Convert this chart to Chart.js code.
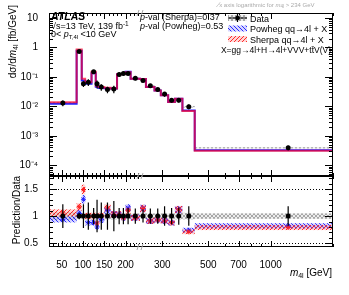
<!DOCTYPE html>
<html><head><meta charset="utf-8">
<script src="https://cdn.jsdelivr.net/npm/chart.js@4/dist/chart.umd.min.js"></script>
<style>
html,body{margin:0;padding:0;background:#fff;}
#wrap{position:relative;width:349px;height:295px;overflow:hidden;}
canvas{position:absolute;left:0;}
</style></head><body>
<div id="wrap">
<canvas id="bot" width="349" height="119" style="top:176px"></canvas>
<canvas id="top" width="349" height="178" style="top:0"></canvas>
</div>
<script>
// ---------------- data ----------------
const binEdges = [20, 85, 97, 105, 120, 130, 136, 150, 165, 180, 190, 200, 212, 234, 250, 275, 295, 320, 345, 375, 430, 2000];
const dataValues = [0.013, 0.73, 0.058, 0.066, 0.15, 0.058, 0.045, 0.037, 0.039, 0.12, 0.13, 0.13, 0.09, 0.075, 0.05, 0.037, 0.026, 0.016, 0.016, 0.0097, 0.00039];
const dataStatRel = [0.22, 0.06, 0.22, 0.25, 0.15, 0.3, 0.25, 0.25, 0.28, 0.15, 0.15, 0.15, 0.14, 0.12, 0.14, 0.14, 0.18, 0.15, 0.16, 0.18, 0.18];
const dataSystRel = [0.07, 0.05, 0.06, 0.06, 0.05, 0.06, 0.06, 0.06, 0.06, 0.05, 0.05, 0.05, 0.05, 0.05, 0.05, 0.05, 0.05, 0.05, 0.06, 0.06, 0.05];
const sherpaRatio = [1.06, 1.17, 1.49, 1.0, 1.0, 0.87, 1.0, 1.15, 1.03, 1.03, 0.97, 1.11, 0.97, 1.14, 0.91, 0.93, 0.91, 0.88, 1.12, 0.71, 0.79];
const powhegRatio = [0.94, 1.05, 1.31, 0.88, 0.88, 0.80, 0.93, 1.11, 1.03, 1.03, 0.97, 1.15, 0.97, 1.14, 0.91, 0.93, 0.91, 0.88, 1.12, 0.74, 0.82];
const predUncRel = 0.06;
const xTickValues = [50, 100, 150, 200, 300, 500, 700, 1000];
const yTickValues = [1e-4, 1e-3, 1e-2, 1e-1, 1, 10];
const yTickLabels = ['10\u207B\u2074', '10\u207B\u00B3', '10\u207B\u00B2', '10\u207B\u00B9', '1', '10'];
const ratioTickValues = [0.5, 1, 1.5];
const ratioTickLabels = ['0.5', '1', '1.5'];

// ---------------- axis: linear up to 234 GeV, logarithmic above ----------------
const X_MIN = 20, X_BREAK = 234, X_MAX = 2000, LIN_SHARE = 0.3204;
class BrokenLogScale extends Chart.LinearScale {
  frac(v) {
    if (v <= X_BREAK) return LIN_SHARE * (v - this.min) / (X_BREAK - this.min);
    return LIN_SHARE + (1 - LIN_SHARE) * Math.log(v / X_BREAK) / Math.log(this.max / X_BREAK);
  }
  getPixelForValue(v) { return this.left + this.width * this.frac(v); }
  getValueForPixel(p) {
    const f = (p - this.left) / this.width;
    if (f <= LIN_SHARE) return this.min + f / LIN_SHARE * (X_BREAK - this.min);
    return X_BREAK * Math.exp((f - LIN_SHARE) / (1 - LIN_SHARE) * Math.log(this.max / X_BREAK));
  }
}
BrokenLogScale.id = 'brokenlog';
Chart.register(BrokenLogScale);

const FAM = '"Liberation Sans", Arial, Helvetica, sans-serif';
const nb = dataValues.length;
const centers = dataValues.map((_, i) => (binEdges[i] + binEdges[i + 1]) / 2);
const sherpaPred = dataValues.map((v, i) => v * sherpaRatio[i]);
const powhegPred = dataValues.map((v, i) => v * powhegRatio[i]);
function stepPoints(vals) {
  const pts = [];
  vals.forEach((v, i) => { pts.push({x: binEdges[i], y: v}); pts.push({x: binEdges[i + 1], y: v}); });
  return pts;
}
const xMinor = [];
for (let m = 30; m < X_BREAK; m += 10) if (!xTickValues.includes(m)) xMinor.push(m);
[400, 600, 800, 900, 2000].forEach(m => xMinor.push(m));

function makePattern(color, dir, bg) {
  const c = document.createElement('canvas'); c.width = 4; c.height = 4;
  const g = c.getContext('2d');
  if (bg) { g.fillStyle = bg; g.fillRect(0, 0, 4, 4); }
  g.strokeStyle = color; g.lineWidth = 1;
  g.beginPath();
  if (dir === '/' || dir === 'x') { g.moveTo(0, 4); g.lineTo(4, 0); g.moveTo(-1, 1); g.lineTo(1, -1); g.moveTo(3, 5); g.lineTo(5, 3); }
  if (dir === '\\' || dir === 'x') { g.moveTo(0, 0); g.lineTo(4, 4); g.moveTo(-1, 3); g.lineTo(1, 5); g.moveTo(3, -1); g.lineTo(5, 1); }
  g.stroke();
  return g.canvas;
}
let patGray, patRed, patBlue;
function pats(ctx) {
  if (!patGray) {
    patGray = ctx.createPattern(makePattern('rgba(150,150,150,0.8)', 'x', 'rgba(220,220,220,0.5)'), 'repeat');
    patRed = ctx.createPattern(makePattern('rgba(255,0,0,0.8)', '/', 'rgba(255,120,120,0.3)'), 'repeat');
    patBlue = ctx.createPattern(makePattern('rgba(0,0,255,0.8)', '\\', 'rgba(120,120,255,0.3)'), 'repeat');
  }
}

function rich(ctx, x, y, parts, align) {
  let w = 0;
  parts.forEach(p => { ctx.font = p.f; w += ctx.measureText(p.t).width; });
  let cx = align === 'right' ? x - w : (align === 'center' ? x - w / 2 : x);
  parts.forEach(p => { ctx.font = p.f; ctx.fillText(p.t, cx, y + (p.dy || 0)); cx += ctx.measureText(p.t).width; });
  return w;
}
function F(size, style) { return (style ? style + ' ' : '') + size + 'px ' + FAM; }
function noPad(s) { s.paddingTop = 0; s.paddingBottom = 0; s.paddingLeft = 0; s.paddingRight = 0; }

function drawFrameTicks(ctx, chart, yMajor, yMinor) {
  const a = chart.chartArea, xs = chart.scales.x, ys = chart.scales.y;
  ctx.save();
  ctx.strokeStyle = '#000'; ctx.lineWidth = 1;
  ctx.strokeRect(a.left + 0.5, a.top + 0.5, a.right - a.left - 1, a.bottom - a.top - 1);
  ctx.beginPath();
  const vt = (v, len) => {
    const px = Math.round(xs.getPixelForValue(v)) + 0.5;
    ctx.moveTo(px, a.top); ctx.lineTo(px, a.top + len);
    ctx.moveTo(px, a.bottom); ctx.lineTo(px, a.bottom - len);
  };
  xTickValues.forEach(v => vt(v, 6));
  xMinor.forEach(v => vt(v, 3));
  const ht = (v, len) => {
    if (v < ys.min || v > ys.max) return;
    const py = Math.round(ys.getPixelForValue(v)) + 0.5;
    ctx.moveTo(a.left, py); ctx.lineTo(a.left + len, py);
    ctx.moveTo(a.right, py); ctx.lineTo(a.right - len, py);
  };
  yMajor.forEach(v => ht(v, 8));
  yMinor.forEach(v => ht(v, 4));
  ctx.stroke();
  const bx = xs.getPixelForValue(X_BREAK);
  ctx.strokeStyle = '#aaa';
  ctx.beginPath();
  [a.top, a.bottom].forEach(y => { ctx.moveTo(bx - 3, y + 3); ctx.lineTo(bx - 1, y - 3); ctx.moveTo(bx + 1, y + 3); ctx.lineTo(bx + 3, y - 3); });
  ctx.stroke();
  ctx.restore();
}

// ---------------- top panel ----------------
const yMinorTop = [];
for (let d = -5; d <= 1; d++) for (let k = 2; k <= 9; k++) yMinorTop.push(k * Math.pow(10, d));

const topPlugin = {
  id: 'topDecor',
  beforeDatasetsDraw(chart) {
    const ctx = chart.ctx, xs = chart.scales.x, ys = chart.scales.y, a = chart.chartArea;
    pats(ctx);
    ctx.save();
    ctx.beginPath(); ctx.rect(a.left, a.top, a.right - a.left, a.bottom - a.top); ctx.clip();
    ctx.fillStyle = patGray;
    dataValues.forEach((v, i) => {
      const x0 = xs.getPixelForValue(binEdges[i]), x1 = xs.getPixelForValue(binEdges[i + 1]);
      const y0 = ys.getPixelForValue(v * (1 + dataSystRel[i])), y1 = ys.getPixelForValue(v * (1 - dataSystRel[i]));
      ctx.fillRect(x0, y0, x1 - x0, y1 - y0);
    });
    ctx.restore();
  },
  beforeDatasetDraw(chart, args) {
    if (args.index !== 0) return;
    const ctx = chart.ctx, xs = chart.scales.x, ys = chart.scales.y;
    ctx.save(); ctx.strokeStyle = '#000'; ctx.lineWidth = 1.2; ctx.beginPath();
    dataValues.forEach((v, i) => {
      const px = xs.getPixelForValue(centers[i]);
      ctx.moveTo(px, ys.getPixelForValue(v * (1 + dataStatRel[i])));
      ctx.lineTo(px, ys.getPixelForValue(v * (1 - dataStatRel[i])));
    });
    ctx.stroke(); ctx.restore();
  },
  afterDraw(chart) {
    const ctx = chart.ctx;
    drawFrameTicks(ctx, chart, yTickValues, yMinorTop);
    ctx.save();
    ctx.fillStyle = '#000'; ctx.textBaseline = 'alphabetic';
    ctx.save();
    ctx.translate(16, 5); ctx.rotate(-Math.PI / 2);
    rich(ctx, 0, 0, [{t: 'd\u03C3/d', f: F(10)}, {t: 'm', f: F(10, 'italic')}, {t: '4l', f: F(7), dy: 2}, {t: ' [fb/GeV]', f: F(10)}], 'right');
    ctx.restore();
    ctx.fillStyle = '#aaa';
    rich(ctx, 218, 7, [{t: '\u2215', f: F(7, 'italic')}, {t: 'x axis logarithmic for ', f: F(6)}, {t: 'm', f: F(6, 'italic')}, {t: '4l', f: F(4.5), dy: 1}, {t: ' > 234 GeV', f: F(6)}]);
    ctx.fillStyle = '#000';
    rich(ctx, 51, 20, [{t: 'ATLAS', f: F(10.5, 'bold italic')}]);
    rich(ctx, 51, 28.5, [{t: '\u221As=13 TeV, 139 fb', f: F(9)}, {t: '-1', f: F(6.5), dy: -3}]);
    rich(ctx, 51, 37, [{t: '0< ', f: F(9)}, {t: 'p', f: F(9, 'italic')}, {t: 'T,4l', f: F(6), dy: 2}, {t: ' <10 GeV', f: F(9)}]);
    rich(ctx, 140, 19.5, [{t: 'p', f: F(9, 'italic')}, {t: '-val (Sherpa)=0.37', f: F(9)}]);
    rich(ctx, 140, 28.5, [{t: 'p', f: F(9, 'italic')}, {t: '-val (Powheg)=0.53', f: F(9)}]);
    const lx = 228, lw = 19;
    const rows = [18, 28.5, 39];
    pats(ctx);
    ctx.fillStyle = patGray; ctx.fillRect(lx, rows[0] - 3, lw, 6);
    ctx.strokeStyle = '#000'; ctx.lineWidth = 1.2; ctx.beginPath();
    ctx.moveTo(lx, rows[0]); ctx.lineTo(lx + lw, rows[0]);
    ctx.moveTo(lx + lw / 2, rows[0] - 4); ctx.lineTo(lx + lw / 2, rows[0] + 4); ctx.stroke();
    ctx.fillStyle = '#000'; ctx.beginPath(); ctx.arc(lx + lw / 2, rows[0], 2.3, 0, Math.PI * 2); ctx.fill();
    ctx.fillStyle = patBlue; ctx.fillRect(lx, rows[1] - 3, lw, 6);
    ctx.fillStyle = patRed; ctx.fillRect(lx, rows[2] - 3, lw, 6);
    ctx.fillStyle = '#000';
    rich(ctx, 250, rows[0] + 3.5, [{t: 'Data', f: F(9)}]);
    rich(ctx, 250, rows[1] + 3.5, [{t: 'Powheg qq\u21924l + X', f: F(9)}]);
    rich(ctx, 250, rows[2] + 3.5, [{t: 'Sherpa qq\u21924l + X', f: F(9)}]);
    rich(ctx, 331, 53, [{t: 'X=gg\u21924l+H\u21924l+VVV+t', f: F(8.5)}, {t: 't\u0304', f: F(8.5)}, {t: 'V(V)', f: F(8.5)}], 'right');
    ctx.restore();
  }
};

new Chart(document.getElementById('top'), {
  type: 'line',
  data: {
    datasets: [
      {label: 'Data', type: 'scatter', data: centers.map((c, i) => ({x: c, y: dataValues[i]})),
       pointRadius: 2.5, pointBackgroundColor: '#000', pointBorderColor: '#000', pointBorderWidth: 0},
      {label: 'Sherpa qq\u21924l + X', data: stepPoints(sherpaPred), borderColor: 'rgba(255,0,40,0.7)', borderWidth: 2, pointRadius: 0, fill: false, tension: 0},
      {label: 'Powheg qq\u21924l + X', data: stepPoints(powhegPred), borderColor: '#2222ff', borderWidth: 2, pointRadius: 0, fill: false, tension: 0}
    ]
  },
  options: {
    responsive: false, animation: false, devicePixelRatio: 1,
    layout: {autoPadding: false, padding: {left: 0, right: 16, top: 13, bottom: 2}},
    plugins: {legend: {display: false}, tooltip: {enabled: false}},
    scales: {
      x: {type: 'brokenlog', min: X_MIN, max: X_MAX, display: false},
      y: {type: 'logarithmic', min: 4.3e-5, max: 14.8,
          afterFit(s) { s.width = 49; noPad(s); },
          afterBuildTicks(s) { s.ticks = yTickValues.map(v => ({value: v, major: true})); },
          grid: {display: false}, border: {display: false},
          ticks: {color: '#000', font: {family: FAM, size: 10}, padding: 3,
                  callback: (v) => { const i = yTickValues.indexOf(v); return i >= 0 ? yTickLabels[i] : ''; }}}
    }
  },
  plugins: [topPlugin]
});

// ---------------- ratio panel ----------------
const yMinorRatio = [];
for (let k = 5; k <= 17; k++) { const v = k / 10; if (!ratioTickValues.includes(v)) yMinorRatio.push(v); }

const botPlugin = {
  id: 'botDecor',
  beforeDatasetsDraw(chart) {
    const ctx = chart.ctx, xs = chart.scales.x, ys = chart.scales.y, a = chart.chartArea;
    pats(ctx);
    ctx.save();
    ctx.beginPath(); ctx.rect(a.left, a.top, a.right - a.left, a.bottom - a.top); ctx.clip();
    const band = (pat, centre, half) => {
      ctx.fillStyle = pat;
      for (let i = 0; i < nb; i++) {
        const x0 = xs.getPixelForValue(binEdges[i]), x1 = xs.getPixelForValue(binEdges[i + 1]);
        const y0 = ys.getPixelForValue(centre(i) + half(i)), y1 = ys.getPixelForValue(centre(i) - half(i));
        ctx.fillRect(x0, y0, x1 - x0, y1 - y0);
      }
    };
    band(patGray, () => 1, i => dataSystRel[i]);
    band(patBlue, i => powhegRatio[i], i => predUncRel * powhegRatio[i]);
    band(patRed, i => sherpaRatio[i], i => predUncRel * sherpaRatio[i]);
    ctx.strokeStyle = '#000'; ctx.lineWidth = 1; ctx.setLineDash([1, 2]);
    ctx.beginPath();
    [0.5, 1.5].forEach(v => { const y = Math.round(ys.getPixelForValue(v)) + 0.5; ctx.moveTo(a.left, y); ctx.lineTo(a.right, y); });
    ctx.stroke();
    ctx.restore();
  },
  beforeDatasetDraw(chart, args) {
    if (args.index !== 0) return;
    const ctx = chart.ctx, xs = chart.scales.x, ys = chart.scales.y;
    ctx.save(); ctx.strokeStyle = '#000'; ctx.lineWidth = 1.2; ctx.beginPath();
    for (let i = 0; i < nb; i++) {
      const px = xs.getPixelForValue(centers[i]);
      ctx.moveTo(px, ys.getPixelForValue(1 + dataStatRel[i]));
      ctx.lineTo(px, ys.getPixelForValue(1 - dataStatRel[i]));
    }
    ctx.stroke(); ctx.restore();
  },
  afterDraw(chart) {
    const ctx = chart.ctx;
    drawFrameTicks(ctx, chart, ratioTickValues, yMinorRatio);
    ctx.save(); ctx.fillStyle = '#000';
    ctx.save(); ctx.translate(20, 34); ctx.rotate(-Math.PI / 2);
    rich(ctx, 0, 0, [{t: 'Prediction/Data', f: F(10)}], 'center');
    ctx.restore();
    rich(ctx, 332, 100, [{t: 'm', f: F(10, 'italic')}, {t: '4l', f: F(7), dy: 2}, {t: ' [GeV]', f: F(10)}], 'right');
    ctx.restore();
  }
};

new Chart(document.getElementById('bot'), {
  type: 'scatter',
  data: {
    datasets: [
      {label: 'Data', data: centers.map(c => ({x: c, y: 1})), pointRadius: 2.5, pointBackgroundColor: '#000', pointBorderWidth: 0},
      {label: 'Sherpa', data: centers.map((c, i) => ({x: c, y: sherpaRatio[i]})), pointStyle: 'star', pointRadius: 2.5, pointBorderColor: '#ff2020', pointBorderWidth: 1},
      {label: 'Powheg', data: centers.map((c, i) => ({x: c, y: powhegRatio[i]})), pointStyle: 'star', pointRadius: 2.5, pointBorderColor: '#2020ff', pointBorderWidth: 1}
    ]
  },
  options: {
    responsive: false, animation: false, devicePixelRatio: 1,
    layout: {autoPadding: false, padding: {left: 0, right: 16, top: 0, bottom: 0}},
    plugins: {legend: {display: false}, tooltip: {enabled: false}},
    scales: {
      x: {type: 'brokenlog', min: X_MIN, max: X_MAX, position: 'bottom',
          afterFit(s) { s.height = 48; noPad(s); },
          afterBuildTicks(s) { s.ticks = xTickValues.map(v => ({value: v})); },
          grid: {display: false}, border: {display: false},
          ticks: {color: '#000', font: {family: FAM, size: 10}, padding: 4, autoSkip: false, maxRotation: 0,
                  callback: (v) => String(v)}},
      y: {type: 'linear', min: 0.43, max: 1.74,
          afterFit(s) { s.width = 49; noPad(s); },
          afterBuildTicks(s) { s.ticks = ratioTickValues.map(v => ({value: v})); },
          grid: {display: false}, border: {display: false},
          ticks: {color: '#000', font: {family: FAM, size: 10}, padding: 3,
                  callback: (v) => { const i = ratioTickValues.indexOf(v); return i >= 0 ? ratioTickLabels[i] : ''; }}}
    }
  },
  plugins: [botPlugin]
});
</script>
</body></html>
